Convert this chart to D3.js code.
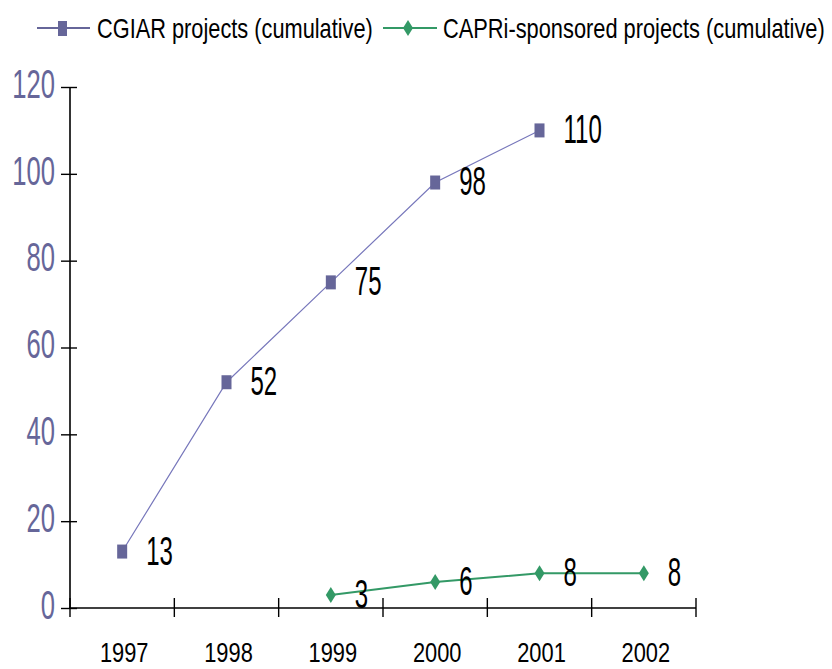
<!DOCTYPE html>
<html><head><meta charset="utf-8">
<script src="https://cdn.jsdelivr.net/npm/d3@7"></script>
<style>body{margin:0;background:#fff}svg{display:block}</style>
</head><body>
<script>
const years = ['1997','1998','1999','2000','2001','2002'];
const cgiarValues = [13, 52, 75, 98, 110, null];
const capriValues = [null, null, 3, 6, 8, 8];
const yTickValues = [0, 20, 40, 60, 80, 100, 120];
const seriesNames = ['CGIAR projects (cumulative)', 'CAPRi-sponsored projects (cumulative)'];

const W = 832, H = 669;
const font = "'Liberation Sans', Arial, sans-serif";
const svg = d3.select('body').append('svg').attr('width', W).attr('height', H);

const x = d3.scaleBand().domain(years).range([70, 696]);
const cx = d => x(d) + x.bandwidth() / 2;
const y = d3.scaleLinear().domain([0, 120]).range([608, 87]);

// Y axis
const yAxis = svg.append('g').attr('transform', 'translate(70,0)')
  .call(d3.axisLeft(y).tickValues(yTickValues).tickSize(9).tickFormat(''));
yAxis.select('.domain').attr('stroke', '#000').attr('stroke-width', 1.6).attr('d', `M0,${y(120)}V${y(0)}`);
yAxis.selectAll('.tick line').attr('x1', -9).attr('x2', 7).attr('stroke', '#000').attr('stroke-width', 1.4);
svg.append('g').selectAll('text').data(yTickValues).join('text')
  .attr('transform', d => `translate(55,${y(d) - 3}) scale(0.64,1)`)
  .attr('text-anchor', 'end').attr('dominant-baseline', 'central')
  .attr('font-family', font).attr('font-size', 40).attr('fill', '#666699')
  .text(d => d);

// X axis
const xAxis = svg.append('g').attr('transform', `translate(0,${y(0)})`)
  .call(d3.axisBottom(x).tickSize(0).tickFormat(''));
xAxis.select('.domain').attr('stroke', '#000').attr('stroke-width', 1.6).attr('d', 'M69,0H696');
const bounds = years.map(d => x(d)).concat([x(years[years.length - 1]) + x.bandwidth()]);
xAxis.selectAll('.bound').data(bounds).join('line').attr('class', 'bound')
  .attr('x1', d => d).attr('x2', d => d).attr('y1', -10).attr('y2', 9)
  .attr('stroke', '#000').attr('stroke-width', 1.4);
svg.append('g').selectAll('text').data(years).join('text')
  .attr('transform', d => `translate(${cx(d) + 2},652) scale(0.78,1)`)
  .attr('text-anchor', 'middle').attr('dominant-baseline', 'central')
  .attr('font-family', font).attr('font-size', 28).attr('fill', '#000')
  .text(d => d);

function drawSeries(values, lineColor, lineWidth, markColor, shape) {
  const pts = years.map((d, i) => ({ d, v: values[i] })).filter(p => p.v !== null);
  const line = d3.line().x(p => cx(p.d)).y(p => y(p.v));
  svg.append('path').datum(pts).attr('d', line).attr('fill', 'none')
    .attr('stroke', lineColor).attr('stroke-width', lineWidth);
  const g = svg.append('g');
  if (shape === 'rect') {
    g.selectAll('rect').data(pts).join('rect')
      .attr('x', p => cx(p.d) - 5).attr('y', p => y(p.v) - 7)
      .attr('width', 10).attr('height', 14).attr('fill', markColor);
  } else {
    g.selectAll('path').data(pts).join('path')
      .attr('d', p => `M${cx(p.d)},${y(p.v) - 8}L${cx(p.d) + 5},${y(p.v)}L${cx(p.d)},${y(p.v) + 8}L${cx(p.d) - 5},${y(p.v)}Z`)
      .attr('fill', markColor);
  }
  svg.append('g').selectAll('text').data(pts).join('text')
    .attr('transform', p => `translate(${cx(p.d) + 24},${y(p.v) - 1}) scale(0.6,1)`)
    .attr('dominant-baseline', 'central')
    .attr('font-family', font).attr('font-size', 40).attr('fill', '#000')
    .text(p => p.v);
}
drawSeries(cgiarValues, '#7777bb', 1.2, '#666699', 'rect');
drawSeries(capriValues, '#339966', 2, '#339966', 'diamond');

// Legend
function fitText(g, str, x0, yc, width) {
  const t = g.append('text').attr('dominant-baseline', 'central')
    .attr('font-family', font).attr('font-size', 27).attr('fill', '#000').text(str);
  const natural = t.node().getComputedTextLength();
  t.attr('transform', `translate(${x0},${yc}) scale(${width / natural},1)`);
}
const leg = svg.append('g');
leg.append('line').attr('x1', 37).attr('x2', 90).attr('y1', 28).attr('y2', 28).attr('stroke', '#666699').attr('stroke-width', 2);
leg.append('rect').attr('x', 58).attr('y', 21).attr('width', 9).attr('height', 15).attr('fill', '#666699');
fitText(leg, seriesNames[0], 97, 29, 276);
leg.append('line').attr('x1', 383).attr('x2', 437).attr('y1', 28).attr('y2', 28).attr('stroke', '#339966').attr('stroke-width', 2);
leg.append('path').attr('d', 'M408,20L413,28L408,36L403,28Z').attr('fill', '#339966');
fitText(leg, seriesNames[1], 443, 29, 382);
</script>
</body></html>
